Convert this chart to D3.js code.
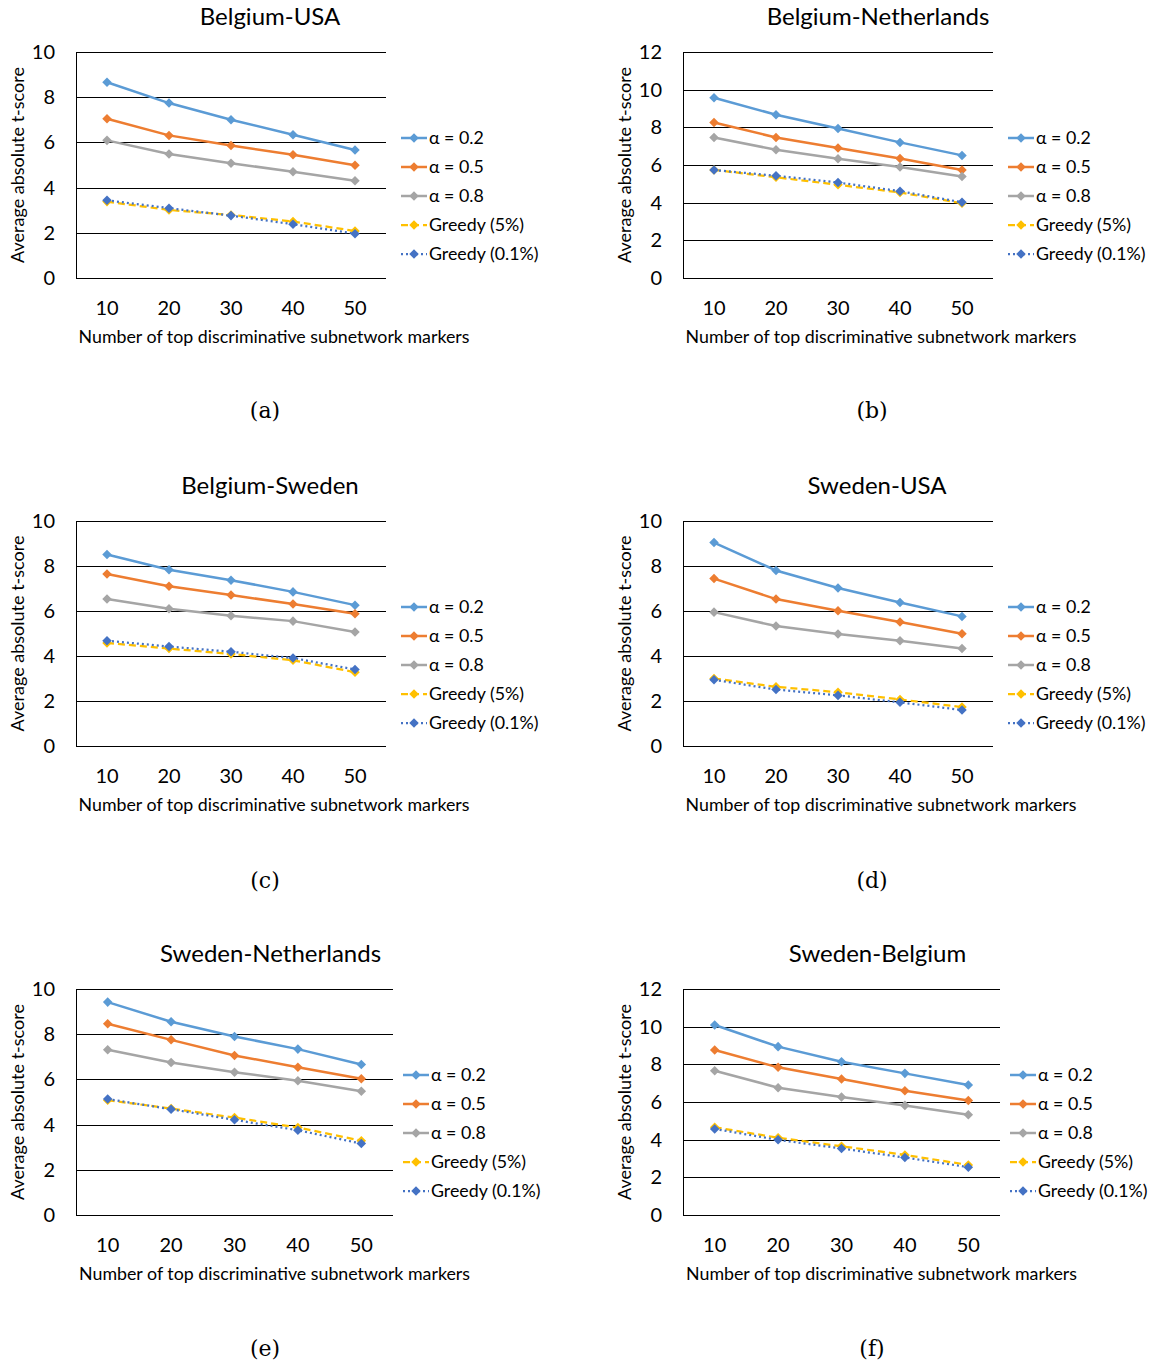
<!DOCTYPE html>
<html><head><meta charset="utf-8">
<script src="https://cdn.jsdelivr.net/npm/d3@7"></script>
<style>body{margin:0;background:#fff}svg{display:block}</style>
</head><body>
<script>
const categories = [10, 20, 30, 40, 50];
const seriesNames = ["α = 0.2", "α = 0.5", "α = 0.8", "Greedy (5%)", "Greedy (0.1%)"];
const titles = ["Belgium-USA", "Belgium-Netherlands", "Belgium-Sweden", "Sweden-USA", "Sweden-Netherlands", "Sweden-Belgium"];
const captions = ["(a)", "(b)", "(c)", "(d)", "(e)", "(f)"];
const yMax = [10, 12, 10, 10, 10, 12];
const yTicks10 = [0, 2, 4, 6, 8, 10];
const yTicks12 = [0, 2, 4, 6, 8, 10, 12];

// values per panel: [α0.2, α0.5, α0.8, Greedy5, Greedy0.1]
const belgiumUSA = [
  [8.66, 7.74, 7.00, 6.34, 5.66],
  [7.05, 6.31, 5.86, 5.45, 4.99],
  [6.09, 5.49, 5.08, 4.70, 4.30],
  [3.38, 3.01, 2.79, 2.50, 2.08],
  [3.44, 3.09, 2.76, 2.38, 1.96]
];
const belgiumNetherlands = [
  [9.57, 8.67, 7.94, 7.20, 6.51],
  [8.26, 7.46, 6.90, 6.35, 5.74],
  [7.46, 6.81, 6.33, 5.89, 5.39],
  [5.74, 5.35, 4.95, 4.54, 3.97],
  [5.73, 5.43, 5.07, 4.61, 4.02]
];
const belgiumSweden = [
  [8.51, 7.83, 7.37, 6.85, 6.26],
  [7.64, 7.10, 6.71, 6.31, 5.88],
  [6.53, 6.10, 5.79, 5.55, 5.07],
  [4.58, 4.33, 4.09, 3.81, 3.28],
  [4.68, 4.42, 4.19, 3.91, 3.40]
];
const swedenUSA = [
  [9.04, 7.80, 7.02, 6.38, 5.76],
  [7.44, 6.53, 6.01, 5.51, 4.99],
  [5.95, 5.33, 4.98, 4.68, 4.33],
  [3.00, 2.63, 2.39, 2.07, 1.73],
  [2.94, 2.51, 2.25, 1.94, 1.60]
];
const swedenNetherlands = [
  [9.42, 8.55, 7.90, 7.34, 6.66],
  [8.46, 7.75, 7.06, 6.54, 6.03],
  [7.31, 6.75, 6.32, 5.94, 5.48],
  [5.08, 4.71, 4.31, 3.87, 3.29],
  [5.13, 4.68, 4.21, 3.75, 3.16]
];
const swedenBelgium = [
  [10.09, 8.94, 8.14, 7.52, 6.90],
  [8.76, 7.84, 7.22, 6.60, 6.08],
  [7.66, 6.76, 6.26, 5.82, 5.32],
  [4.66, 4.10, 3.65, 3.19, 2.66],
  [4.57, 3.99, 3.53, 3.05, 2.54]
];
const panelData = [belgiumUSA, belgiumNetherlands, belgiumSweden, swedenUSA, swedenNetherlands, swedenBelgium];

const colors = ["#5B9BD5", "#ED7D31", "#A5A5A5", "#FFC000", "#4472C4"];
const dashes = [null, null, null, "7,4", "2,3"];
const widths = [2.5, 2.5, 2.5, 2.25, 2.25];

const layout = [
  {left: 76, top: 52, w: 310, h: 226, capX: 265, capY: 410, legX: 401, tOff: 39, xOff: 43},
  {left: 683, top: 52, w: 310, h: 226, capX: 872, capY: 410, legX: 1008, tOff: 40, xOff: 43},
  {left: 76, top: 521, w: 310, h: 225, capX: 265, capY: 880, legX: 401, tOff: 39, xOff: 43},
  {left: 683, top: 521, w: 310, h: 225, capX: 872, capY: 880, legX: 1008, tOff: 39, xOff: 43},
  {left: 76, top: 989, w: 317, h: 226, capX: 265, capY: 1348, legX: 403, tOff: 36, xOff: 40},
  {left: 683, top: 989, w: 317, h: 226, capX: 872, capY: 1348, legX: 1010, tOff: 36, xOff: 40}
];

const FONT = "Lato, 'Open Sans', sans-serif";
const svg = d3.select("body").append("svg").attr("width", 1153).attr("height", 1365);

const diamond = d3.symbol().type(d3.symbolDiamond2 || d3.symbolDiamond).size(58);

panelData.forEach((data, i) => {
  const L = layout[i];
  const g = svg.append("g").attr("transform", `translate(${L.left},${L.top})`);
  const x = d3.scaleBand().domain(categories).range([0, L.w]);
  const y = d3.scaleLinear().domain([0, yMax[i]]).range([L.h, 0]);
  const ticks = yMax[i] === 12 ? yTicks12 : yTicks10;

  g.append("g").selectAll("line").data(ticks).join("line")
    .attr("x1", 0).attr("x2", L.w)
    .attr("y1", d => Math.round(y(d)) + 0.5).attr("y2", d => Math.round(y(d)) + 0.5)
    .attr("stroke", "#000").attr("stroke-width", 1);
  g.append("line").attr("x1", 0.5).attr("x2", 0.5).attr("y1", Math.round(y(yMax[i])) + 0.5).attr("y2", Math.round(L.h) + 0.5)
    .attr("stroke", "#000").attr("stroke-width", 1);

  g.append("g").selectAll("text").data(ticks).join("text")
    .attr("x", -21).attr("y", d => y(d)).attr("dy", "0.35em")
    .attr("text-anchor", "end").attr("font-family", FONT).attr("font-size", 20)
    .attr("fill", "#000").text(d => d);
  g.append("g").selectAll("text").data(categories).join("text")
    .attr("x", d => x(d) + x.bandwidth() / 2).attr("y", L.h + 30).attr("dy", "0.35em")
    .attr("text-anchor", "middle").attr("font-family", FONT).attr("font-size", 20)
    .attr("fill", "#000").text(d => d);

  g.append("text").attr("x", L.w / 2 + L.xOff).attr("y", L.h + 59).attr("dy", "0.35em")
    .attr("text-anchor", "middle").attr("font-family", FONT).attr("font-size", 17.8)
    .attr("fill", "#000").text("Number of top discriminative subnetwork markers");
  g.append("text").attr("transform", `translate(${-58},${L.h / 2}) rotate(-90)`).attr("dy", "0.35em")
    .attr("text-anchor", "middle").attr("font-family", FONT).attr("font-size", 18)
    .attr("fill", "#000").text("Average absolute t-score");
  g.append("text").attr("x", L.w / 2 + L.tOff).attr("y", -35).attr("dy", "0.35em")
    .attr("text-anchor", "middle").attr("font-family", FONT).attr("font-size", 24)
    .attr("fill", "#000").text(titles[i]);

  const line = d3.line().x((d, j) => x(categories[j]) + x.bandwidth() / 2).y(d => y(d));
  data.forEach((vals, s) => {
    g.append("path").datum(vals).attr("d", line)
      .attr("fill", "none").attr("stroke", colors[s]).attr("stroke-width", widths[s])
      .attr("stroke-dasharray", dashes[s]);
  });
  data.forEach((vals, s) => {
    g.append("g").selectAll("path").data(vals).join("path")
      .attr("transform", (d, j) => `translate(${x(categories[j]) + x.bandwidth() / 2},${y(d)})`)
      .attr("d", diamond).attr("fill", colors[s]);
  });

  const lg = svg.append("g").attr("transform", `translate(${L.legX},${L.top + 86})`);
  seriesNames.forEach((name, s) => {
    const r = lg.append("g").attr("transform", `translate(0,${s * 29})`);
    r.append("line").attr("x1", 0).attr("x2", 26).attr("y1", 0).attr("y2", 0)
      .attr("stroke", colors[s]).attr("stroke-width", widths[s]).attr("stroke-dasharray", dashes[s]);
    r.append("path").attr("transform", "translate(13,0)").attr("d", diamond).attr("fill", colors[s]);
    r.append("text").attr("x", 28).attr("y", 0).attr("dy", "0.35em")
      .attr("font-family", FONT).attr("font-size", 17.8).attr("fill", "#000").text(name);
  });

  svg.append("text").attr("x", L.capX).attr("y", L.capY).attr("dy", "0.35em")
    .attr("text-anchor", "middle").attr("font-family", "'DejaVu Serif', 'Liberation Serif', serif")
    .attr("font-size", 22).attr("fill", "#000").text(captions[i]);
});
</script>
</body></html>
